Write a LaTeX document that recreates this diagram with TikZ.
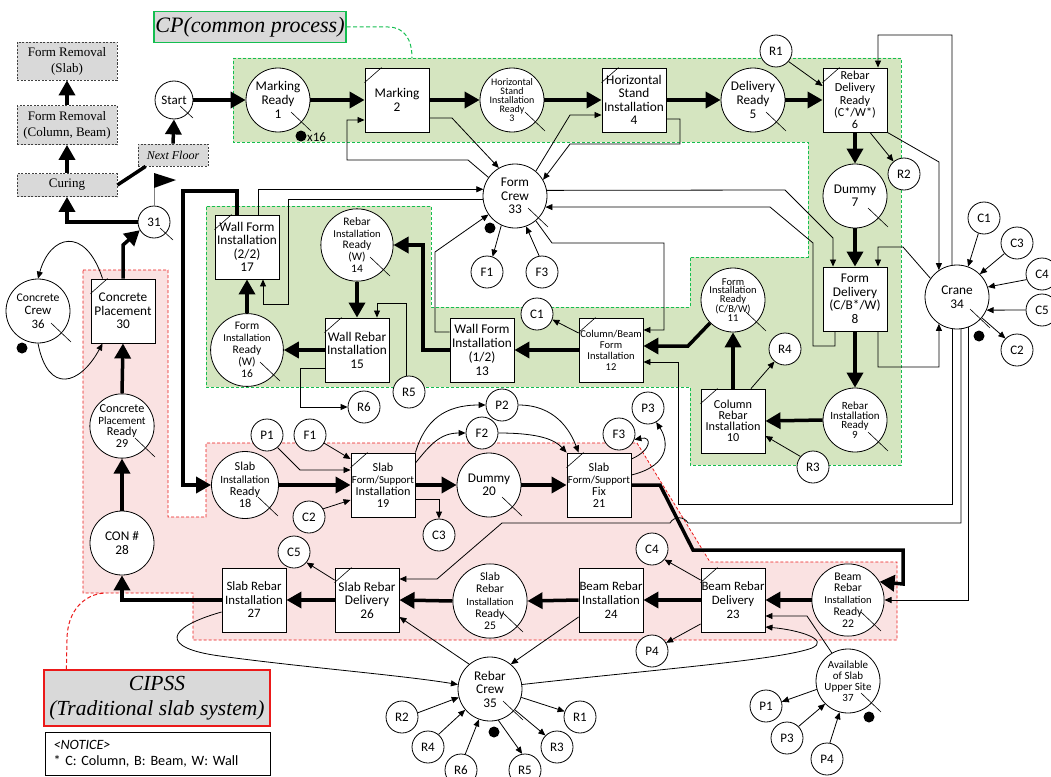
\documentclass[tikz,border=0pt]{standalone}
\usepackage{fontspec}
\setmainfont{Carlito}
\newfontfamily\tnr{Liberation Serif}
\usetikzlibrary{arrows.meta,calc}
\definecolor{gfill}{RGB}{213,229,192}
\definecolor{gline}{RGB}{20,190,80}
\definecolor{rfill}{RGB}{250,226,226}
\definecolor{rline}{RGB}{235,25,25}
\definecolor{gbox}{RGB}{217,217,217}
\newcommand{\fsz}[2]{\fontsize{#1}{#2}\selectfont}
\newcommand{\ctk}[1]{\draw[tk] ([shift={(13,12)}]#1.center) -- ++(20,19);}
\newcommand{\stk}[1]{\draw[tk] ([shift={(6,6)}]#1.center) -- ++(13,12);}
\newcommand{\btk}[1]{\draw[tk] ([shift={(0,15)}]#1.north west) -- ([shift={(17,0)}]#1.north west);}
\begin{document}
\begin{tikzpicture}[x=1pt,y=-1pt,
  every node/.style={inner sep=0pt},
  bc/.style={circle,draw,fill=white,minimum size=64pt,align=center,line width=0.8pt},
  sc/.style={circle,draw,fill=white,minimum size=32pt,font=\fsz{13}{14},line width=0.8pt},
  bx/.style={rectangle,draw,fill=white,minimum width=64pt,minimum height=64pt,align=center,line width=0.9pt},
  gb/.style={rectangle,draw=black!75,dash pattern=on 2pt off 1.5pt,line width=0.8pt,fill=gbox,align=center,font=\tnr\fsz{13}{16}},
  thk/.style={line width=3.5pt,-{Triangle[length=15pt,width=16pt]}},
  thn/.style={line width=0.8pt,-{Triangle[length=7pt,width=6pt]}},
  tk/.style={line width=0.6pt}]
\useasboundingbox (0,0) rectangle (1051,776);
% ---------- background regions
\fill[gfill] (233,58) -- (901,58) -- (901,465) -- (690,465) -- (690,387) -- (206,387) -- (206,206) -- (431,206) -- (431,307) -- (690,307) -- (690,257) -- (808,257) -- (808,142) -- (233,142) -- cycle;
\draw[gline,dash pattern=on 3pt off 2pt,line width=0.8pt] (233,58) -- (901,58) -- (901,465) -- (690,465) -- (690,387) -- (206,387) -- (206,206) -- (431,206) -- (431,307) -- (690,307) -- (690,257) -- (808,257) -- (808,142) -- (233,142) -- cycle;
\fill[rfill] (83,270) -- (168,270) -- (168,517) -- (206,517) -- (206,443) -- (637,443) -- (710,562) -- (897,562) -- (897,640) -- (193,640) -- (193,593) -- (83,593) -- cycle;
\draw[rline,dash pattern=on 3pt off 2pt,line width=0.8pt] (83,270) -- (168,270) -- (168,517) -- (206,517) -- (206,443) -- (637,443) -- (710,562) -- (897,562) -- (897,640) -- (193,640) -- (193,593) -- (83,593) -- cycle;
% ---------- titles
\node[draw=gline,line width=1.2pt,fill=gbox,minimum width=192pt,minimum height=31pt,font=\tnr\itshape\fsz{22}{24}] (cp) at (250,27) {CP(common process)};
\draw[gline,dash pattern=on 4pt off 2.5pt,line width=1pt] (cp.east) -- (388,27) .. controls (405,27) and (412,40) .. (412,58);
\node[draw=rline,line width=1.2pt,fill=gbox,minimum width=226pt,minimum height=56pt,align=center,font=\tnr\itshape\fsz{21.5}{25}] (cip) at (157,698) {CIPSS\\(Traditional slab system)};
\draw[rline,dash pattern=on 4pt off 2.5pt,line width=1pt] ([xshift=23pt]cip.north west) -- (67,640) .. controls (67,610) and (85,594) .. (105,593);
\node[draw,line width=1pt,minimum width=225pt,minimum height=43pt,anchor=north west,align=left,inner xsep=8pt,text width=209pt,font=\fsz{14.2}{16.5}] (notice) at (45,732) {\textit{<NOTICE>}\\{*} C: Column, B: Beam, W: Wall};
% ---------- gray boxes
\node[gb,minimum width=100pt,minimum height=38pt] (fr1) at (67,61) {Form Removal\\(Slab)};
\node[gb,minimum width=100pt,minimum height=39pt] (fr2) at (67,125) {Form Removal\\(Column, Beam)};
\node[gb,minimum width=100pt,minimum height=23pt] (cur) at (67,185) {Curing};
\node[gb,minimum width=70pt,minimum height=22pt,font=\tnr\itshape\fsz{12}{14}] (nf) at (173,155) {Next Floor};
% ---------- main nodes
\node[circle,draw,fill=white,minimum size=38pt,line width=0.8pt,font=\fsz{13}{14}] (start) at (174,100) {Start};
\node[bc,font=\fsz{13.3}{14}] (n1) at (278,100) {Marking\\Ready\\1};
\node[bx,font=\fsz{13.3}{14}] (n2) at (397,100) {Marking\\2};
\node[bc,font=\fsz{10}{9.2}] (n3) at (512,100) {Horizontal\\Stand\\Installation\\Ready\\3};
\node[bx,font=\fsz{13.3}{13.3}] (n4) at (634,100) {Horizontal\\Stand\\Installation\\4};
\node[bc,font=\fsz{13.3}{14}] (n5) at (753,100) {Delivery\\Ready\\5};
\node[bx,font=\fsz{12.2}{12.3}] (n6) at (855,100) {Rebar\\Delivery\\Ready\\(C*/W*)\\6};
\node[bc,font=\fsz{13.3}{13}] (n7) at (855,196) {Dummy\\7};
\node[bx,font=\fsz{13.3}{13.5}] (n8) at (855,299) {Form\\Delivery\\(C/B*/W)\\8};
\node[bc,font=\fsz{11}{9.5}] (n9) at (855,420) {Rebar\\Installation\\Ready\\9};
\node[bx,font=\fsz{12.2}{11}] (n10) at (733,421) {Column\\Rebar\\Installation\\10};
\node[bc,font=\fsz{10.5}{8.7}] (n11) at (733,300) {Form\\Installation\\Ready\\(C/B/W)\\11};
\node[bx,font=\fsz{10.5}{11}] (n12) at (611,350) {Column/Beam\\Form\\Installation\\12};
\node[bx,font=\fsz{13.3}{13.8}] (n13) at (482,350) {Wall Form\\Installation\\(1/2)\\13};
\node[bc,font=\fsz{11.5}{11.7}] (n14) at (357,245) {Rebar\\{\fsz{10.5}{11.7}Installation}\\Ready\\(W)\\14};
\node[bx,font=\fsz{13.3}{13.5}] (n15) at (357,350) {Wall Rebar\\Installation\\15};
\node[bc,font=\fsz{11.5}{12}] (n16) at (247,350) {Form\\{\fsz{10.5}{12}Installation}\\Ready\\(W)\\16};
\node[bx,font=\fsz{13.3}{13.5}] (n17) at (247,247) {Wall Form\\Installation\\(2/2)\\17};
\node[bc,font=\fsz{12.2}{12.3}] (n18) at (245,485) {Slab\\{\fsz{11}{12.3}Installation}\\Ready\\18};
\node[bx,font=\fsz{12.2}{12}] (n19) at (383,485) {Slab\\{\fsz{10.8}{12}Form/Support}\\Installation\\19};
\node[bc,font=\fsz{13.3}{13}] (n20) at (489,485) {Dummy\\20};
\node[bx,font=\fsz{12.2}{12}] (n21) at (599,485) {Slab\\{\fsz{10.8}{12}Form/Support}\\Fix\\21};
\node[bc,font=\fsz{11.7}{11.8}] (n22) at (848,600) {Beam\\Rebar\\{\fsz{10.5}{11.8}Installation}\\Ready\\22};
\node[bx,font=\fsz{12.8}{13.7}] (n23) at (733,600) {Beam Rebar\\Delivery\\23};
\node[bx,font=\fsz{12.8}{13.7}] (n24) at (611,600) {Beam Rebar\\Installation\\24};
\node[bc,font=\fsz{11.7}{12.3}] (n25) at (490,601) {Slab\\Rebar\\{\fsz{10.5}{12.3}Installation}\\Ready\\25};
\node[bx,font=\fsz{13.3}{13.5}] (n26) at (367,600) {Slab Rebar\\Delivery\\26};
\node[bx,font=\fsz{12.8}{13.5}] (n27) at (254,600) {Slab Rebar\\Installation\\27};
\node[bc,font=\fsz{13.3}{14}] (n28) at (122,543) {CON \#\\28};
\node[bc,font=\fsz{12.2}{11.9}] (n29) at (122,426) {Concrete\\{\fsz{11}{11.9}Placement}\\Ready\\29};
\node[bx,font=\fsz{13.3}{13.5}] (n30) at (123,311) {Concrete\\Placement\\30};
\node[sc] (n31) at (154,222) {31};
\node[bc,font=\fsz{13.3}{13.5}] (n33) at (515,196) {Form\\Crew\\33};
\node[bc,font=\fsz{13.3}{14}] (n34) at (957,297) {Crane\\34};
\node[bc,font=\fsz{13.3}{13.5}] (n35) at (490,689) {Rebar\\Crew\\35};
\node[bc,font=\fsz{12.8}{13.5}] (n36) at (38,311) {{\fsz{11.7}{13.5}Concrete}\\Crew\\36};
\node[bc,font=\fsz{11}{11}] (n37) at (848,681) {Available\\of Slab\\Upper Site\\37};
% ---------- small resource circles
\node[sc] (R1a) at (776,51) {R1};
\node[sc] (R2a) at (904,174) {R2};
\node[sc] (R3a) at (813,467) {R3};
\node[sc] (R4a) at (785,349) {R4};
\node[sc] (R5a) at (409,392) {R5};
\node[sc] (R6a) at (364,407) {R6};
\node[sc] (C1a) at (537,314) {C1};
\node[sc] (F1a) at (487,272) {F1};
\node[sc] (F3a) at (542,272) {F3};
\node[sc] (C1b) at (984,218) {C1};
\node[sc] (C3a) at (1017,243) {C3};
\node[sc] (C4a) at (1042,274) {C4};
\node[sc] (C5a) at (1042,310) {C5};
\node[sc] (C2a) at (1017,350) {C2};
\node[sc] (P1a) at (267,435) {P1};
\node[sc] (F1b) at (310,435) {F1};
\node[sc] (C2b) at (309,517) {C2};
\node[sc] (C3b) at (439,535) {C3};
\node[sc] (P2a) at (502,405) {P2};
\node[sc] (F2a) at (482,433) {F2};
\node[sc] (F3b) at (619,434) {F3};
\node[sc] (P3a) at (648,408) {P3};
\node[sc] (C4b) at (652,549) {C4};
\node[sc] (P4a) at (652,651) {P4};
\node[sc] (C5b) at (294,552) {C5};
\node[sc] (R2b) at (402,717) {R2};
\node[sc] (R4b) at (428,747) {R4};
\node[sc] (R6b) at (461,770) {R6};
\node[sc] (R5b) at (525,770) {R5};
\node[sc] (R3b) at (557,747) {R3};
\node[sc] (R1b) at (580,717) {R1};
\node[sc] (P1b) at (766,706) {P1};
\node[sc] (P3b) at (787,738) {P3};
\node[sc] (P4b) at (827,759) {P4};
% ---------- ticks
\foreach \n in {n1,n3,n5,n7,n9,n11,n14,n16,n18,n20,n22,n25,n29,n33,n34,n35,n36,n37} {\ctk{\n}}
\stk{start} \stk{n31}
\foreach \n in {n2,n4,n6,n10,n12,n15,n17,n19,n21,n23,n26,n30} {\btk{\n}}
% ---------- dots, flag
\fill (301,136) circle[radius=5.5pt];
\node[anchor=west,font=\fsz{13}{14}] (x16) at (307,137) {x16};
\fill (490,228) circle[radius=5.5pt];
\fill (979,336) circle[radius=5.5pt];
\fill (22,348) circle[radius=5.5pt];
\fill (494,732) circle[radius=5.5pt];
\fill (869,717) circle[radius=5.5pt];
\draw[gray,line width=1pt] (n31.north) -- (154,173);
\fill (154,173) -- (176,180) -- (154,188) -- cycle;
% ---------- thick main flow
\draw[thk] (start.east) -- (n1.west);
\draw[thk] (n1.east) -- (n2.west);
\draw[thk] (n2.east) -- (n3.west);
\draw[thk] (n3.east) -- (n4.west);
\draw[thk] (n4.east) -- (n5.west);
\draw[thk] (n5.east) -- (n6.west);
\draw[thk] (n6.south) -- (n7.north);
\draw[thk] (n7.south) -- (n8.north);
\draw[thk] (n8.south) -- (n9.north);
\draw[thk] (n9.west) -- (n10.east);
\draw[thk] (n10.north) -- (n11.south);
\draw[thk] (n11.225) -- (688,346) -- ([shift={(0,-4)}]n12.east);
\draw[thk] (n12.west) -- (n13.east);
\draw[thk] (n13.west) -- (423,350) |- (n14.east);
\draw[thk] (n14.south) -- (n15.north);
\draw[thk] (n15.west) -- (n16.east);
\draw[thk] (n16.north) -- (n17.south);
\draw[thk] ([shift={(-10,0)}]n17.north) |- (183,191) |- (n18.west);
\draw[thk] (n18.east) -- (n19.west);
\draw[thk] (n19.east) -- (n20.west);
\draw[thk] (n20.east) -- (n21.west);
\draw[thk] (n21.east) -- (660,485) -- (693,550) -| (903,584) -- (n22.30);
\draw[thk] (n22.west) -- (n23.east);
\draw[thk] (n23.west) -- (n24.east);
\draw[thk] (n24.west) -- (n25.east);
\draw[thk] (n25.west) -- (n26.east);
\draw[thk] (n26.west) -- (n27.east);
\draw[thk] (n27.west) -| (n28.south);
\draw[thk] (n28.north) -- (n29.south);
\draw[thk] (n29.north) -- (n30.south);
\draw[thk] (n30.north) -- (123,245) -- (n31.210);
\draw[thk] (n31.west) -| (cur.south);
\draw[thk] (cur.north) -- (fr2.south);
\draw[thk] (fr2.north) -- (fr1.south);
\draw[line width=3.5pt] (cur.east) -- ([xshift=8pt]nf.south west);
\draw[thk] (nf.north) -- (start.south);
% ---------- thin connectors (common process)
\draw[thn] (R1a.-40) -- ([shift={(0,-14)}]n6.west);
\draw[thn] ([shift={(15,0)}]n6.south) -- (R2a.130);
\draw[thn] ([shift={(0,18)}]n2.east) -- (452,118) -- (n33.120);
\draw[thn] (n33.145) -- (468,160) -- (347,160) -- (347,120) -- ([shift={(0,20)}]n2.west);
\draw[thn] (n33.50) -- (570,115) -- ([shift={(0,15)}]n4.west);
\draw[thn] ([shift={(0,19)}]n4.east) -- (680,119) -- (680,144) -- (570,144) -- (n33.30);
\draw[thn] ([shift={(11,0)}]n17.north) |- (n33.168);
\draw[thn] (n33.186) -| (288,304) -| ([shift={(16,0)}]n17.south);
\draw[thn] (n33.-115) -- (F1a.70);
\draw[thn] (F3a.100) -- (n33.-70);
\draw[thn] (n33.10) -- (785,190) -- (833,238) -- ([shift={(-22,0)}]n8.north);
\draw[thn] ([shift={(-20,0)}]n8.south) -- (835,346) -- (813,346) -- (813,243) -- (770,207) -- (n33.-20);
\draw[thn] (n33.-50) -- (552,243) -- (664,243) -- (664,330) -- ([shift={(0,-20)}]n12.east);
\draw[thn] ([shift={(0,-18)}]n13.west) -- (435,332) -- (435,252) -- (n33.-145);
\draw[thn] ([shift={(0,-17)}]n12.west) -- (C1a.-20);
\draw[thn] (R5a.100) |- (377,303) -- ([shift={(20,0)}]n15.north);
\draw[thn] ([shift={(0,18)}]n15.west) -| (300,407) -- (R6a.west);
\draw[thn] ([shift={(18,0)}]n10.north) -- (R4a.-130);
\draw[thn] (R3a.140) -- ([shift={(0,15)}]n10.east);
% ---------- crane
\draw[thn] (C1b.-110) -- (n34.70);
\draw[thn] (C3a.-140) -- (n34.45);
\draw[thn] (C4a.200) -- (n34.18);
\draw[thn] (C5a.west) -- (n34.-24);
\draw[thn] (n34.-40) -- (C2a.135);
\draw[thn] (n6.south east) -- (939,162) -- (n34.124);
\draw[thn] (n34.99) -- (952,35) -| ([shift={(23,0)}]n6.north);
\draw[thn] (n34.145) -- (903,247) -- (878,247) -- ([shift={(23,0)}]n8.north);
\draw[thn] ([shift={(23,0)}]n8.south) |- (939,367) -- (n34.-124);
\draw[thn] (n34.-70) |- (n22.east);
\draw[thn] (n34.-83) -- (961,523) -- (688,523) .. controls (684,516) and (674,516) .. (670,523) -- (502,523) -- (437,579) -- ([shift={(0,-21)}]n26.east);
\draw[thn] (n34.-99) |- (678,504) |- ([shift={(0,12)}]n12.east);
% ---------- slab
\draw[thn] (P1a.-50) -- (300,470) -- ([shift={(0,-15)}]n19.west);
\draw[thn] (F1b.-30) -- ([shift={(0,-26)}]n19.west);
\draw[thn] (C2b.30) -- ([shift={(0,15)}]n19.west);
\draw[thn] ([shift={(0,14)}]n19.east) -| (C3b.north);
\draw[thn] (n19.north east) .. controls (425,420) and (445,405) .. (P2a.west);
\draw[thn] ([shift={(0,-22)}]n19.east) .. controls (430,445) and (440,433) .. (F2a.west);
\draw[thn] (P2a.east) .. controls (555,405) and (570,430) .. ([shift={(12,0)}]n21.north west);
\draw[thn] (F2a.east) .. controls (540,433) and (555,440) .. (n21.north west);
\draw[thn] ([shift={(0,-26)}]n21.east) .. controls (652,450) and (652,436) .. (F3b.-20);
\draw[thn] ([shift={(0,-10)}]n21.east) .. controls (672,465) and (668,440) .. (P3a.-60);
% ---------- beam / slab rebar
\draw[thn] ([shift={(0,-20)}]n23.west) -- (C4b.-40);
\draw[thn] ([shift={(0,24)}]n23.west) -- (P4a.30);
\draw[thn] (n37.120) -- (807,616) -- ([shift={(0,16)}]n23.east);
\draw[thn] (n35.8) .. controls (650,670) and (780,660) .. (812,648) .. controls (830,640) and (800,630) .. ([shift={(0,27)}]n23.east);
\draw[thn] ([shift={(0,17)}]n24.west) -- (n35.50);
\draw[thn] (n35.130) -- ([shift={(0,17)}]n26.east);
\draw[thn] ([shift={(0,-20)}]n26.west) -- (C5b.-40);
\draw[thn] ([shift={(0,12)}]n27.west) .. controls (165,628) and (160,648) .. (220,656) .. controls (300,667) and (400,675) .. (n35.172);
\draw[thn] (R2b.15) -- (n35.195);
\draw[thn] (R4b.50) -- (n35.-140);
\draw[thn] (R6b.75) -- (n35.-110);
\draw[thn] (n35.-75) -- (R5b.100);
\draw[thn] (n35.-40) -- (R3b.135);
\draw[thn] (n35.-15) -- (R1b.160);
\draw[thn] (n37.195) -- (P1b.15);
\draw[thn] (P3b.45) -- (n37.-135);
\draw[thn] (P4b.80) -- (n37.-105);
% ---------- concrete crew
\draw[thn] ([shift={(12,0)}]n30.north west) .. controls (85,225) and (50,235) .. (n36.north);
\draw[thn] (n36.south) .. controls (48,395) and (80,385) .. ([shift={(12,0)}]n30.south west);
\end{tikzpicture}
\end{document}
